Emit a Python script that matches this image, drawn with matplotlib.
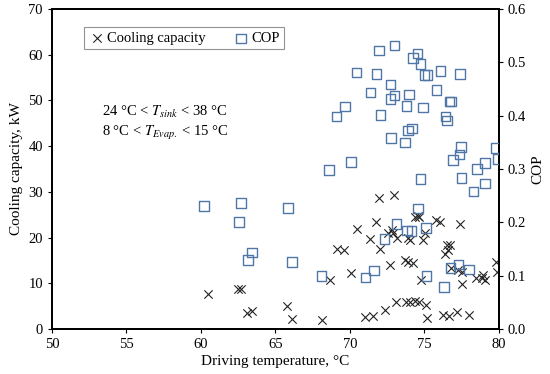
import matplotlib.pyplot as plt

plt.rcParams['font.family'] = ['Liberation Serif', 'DejaVu Serif']
plt.rcParams['mathtext.fontset'] = 'stix'

# Cooling capacity (kW) vs driving temperature (°C)
cc_temp = [60.45, 62.50, 62.66, 63.11, 63.44, 65.81, 66.11, 68.12, 68.66, 69.13,
           69.60, 70.07, 70.45, 71.04, 71.53, 71.34, 71.78, 71.95, 72.01, 72.33,
           72.70, 72.55, 72.80, 72.91, 72.97, 73.13, 73.09, 73.71, 73.91, 74.21,
           73.79, 74.03, 74.36, 74.63, 75.12, 75.15, 73.91, 74.03, 74.92, 75.06,
           74.36, 74.54, 74.66, 75.80, 76.05, 77.40, 74.80, 76.49, 76.71, 76.60,
           76.38, 76.81, 77.28, 77.50, 77.50, 78.44, 78.84, 79.09, 78.94, 79.78,
           79.90, 76.26, 76.64, 77.18, 77.97]
cc_kw = [7.7, 8.7, 8.7, 3.4, 4.0, 5.1, 2.1, 2.0, 10.7, 17.4,
         17.3, 12.2, 21.9, 2.7, 2.8, 19.7, 23.5, 28.7, 17.6, 4.2,
         14.0, 20.9, 21.7, 21.1, 29.3, 19.8, 6.0, 15.2, 14.7, 14.4,
         6.0, 6.0, 6.2, 6.0, 5.3, 2.3, 20.0, 19.5, 19.5, 20.9,
         24.6, 24.8, 24.6, 23.8, 23.3, 23.0, 10.8, 18.3, 18.4, 17.3,
         16.4, 13.3, 12.9, 12.5, 9.9, 11.1, 11.1, 10.7, 11.8, 14.7,
         12.5, 3.1, 2.8, 3.8, 3.0]

# COP vs driving temperature (°C)
cop_temp = [60.20, 62.68, 62.55, 65.84, 63.15, 63.42, 66.11, 68.10, 68.61, 69.11,
            69.66, 70.07, 70.45, 71.05, 71.63, 71.39, 71.79, 71.95, 72.06, 72.31,
            72.72, 72.73, 72.99, 72.99, 72.75, 73.13, 73.71, 73.83, 74.14, 73.80,
            73.98, 73.91, 74.18, 74.25, 74.52, 74.74, 75.00, 75.20, 74.91, 74.58,
            74.74, 75.11, 75.15, 75.80, 76.07, 76.32, 76.68, 76.78, 76.40, 76.53,
            76.74, 77.29, 77.99, 77.40, 77.47, 77.36, 76.91, 77.50, 78.30, 78.54,
            79.08, 79.08, 79.78, 79.95]
cop_val = [0.231, 0.236, 0.201, 0.227, 0.129, 0.143, 0.126, 0.099, 0.298, 0.398,
           0.417, 0.313, 0.481, 0.097, 0.110, 0.443, 0.478, 0.522, 0.401, 0.169,
           0.458, 0.431, 0.438, 0.532, 0.358, 0.197, 0.350, 0.185, 0.184, 0.418,
           0.440, 0.372, 0.376, 0.508, 0.516, 0.497, 0.476, 0.476, 0.415, 0.226,
           0.281, 0.189, 0.099, 0.448, 0.484, 0.079, 0.426, 0.426, 0.398, 0.391,
           0.114, 0.121, 0.112, 0.478, 0.341, 0.327, 0.317, 0.283, 0.258, 0.300,
           0.311, 0.273, 0.339, 0.319]

fig = plt.figure(figsize=(5.5, 3.74), dpi=100)
ax = fig.add_axes([0.0945, 0.1203, 0.8125, 0.8557])
ax2 = ax.twinx()

h1 = ax.scatter(cc_temp, cc_kw, marker='x', s=36, color='#222222', linewidths=0.8,
                label='Cooling capacity', zorder=3)
h2 = ax2.scatter(cop_temp, cop_val, marker='s', s=46, facecolors='none',
                 edgecolors='#4f76a6', linewidths=1.0, label='COP', zorder=3)

ax.set_xlim(50, 80)
ax.set_ylim(0, 70)
ax2.set_ylim(0, 0.6)
ax.set_xticks(range(50, 81, 5))
ax.set_yticks(range(0, 71, 10))
ax2.set_yticks([0.0, 0.1, 0.2, 0.3, 0.4, 0.5, 0.6])
ax2.set_yticklabels(['0.0', '0.1', '0.2', '0.3', '0.4', '0.5', '0.6'])

for a in (ax, ax2):
    a.tick_params(labelsize=10.5, direction='out', length=3, width=0.8)
    for sp in a.spines.values():
        sp.set_linewidth(1.3)

ax.set_xlabel('Driving temperature, °C', fontsize=11, labelpad=3)
ax.set_ylabel('Cooling capacity, kW', fontsize=11, labelpad=4)
ax2.set_ylabel('COP', fontsize=11, labelpad=4)

ax.text(57.6, 47.5, r'24 °C < $T_{sink}$ < 38 °C', fontsize=10.5, ha='center', va='center')
ax.text(57.6, 42.8, r'8 °C < $T_{Evap.}$ < 15 °C', fontsize=10.5, ha='center', va='center')

leg = ax.legend(handles=[h1, h2], loc='upper left', bbox_to_anchor=(0.055, 0.965),
                ncol=2, fontsize=10.5, frameon=True, fancybox=False,
                edgecolor='#777777', handletextpad=0.1, columnspacing=1.8,
                borderpad=0.3, handlelength=1.2)
leg.get_frame().set_linewidth(0.8)

fig.savefig('out.png', dpi=100)
